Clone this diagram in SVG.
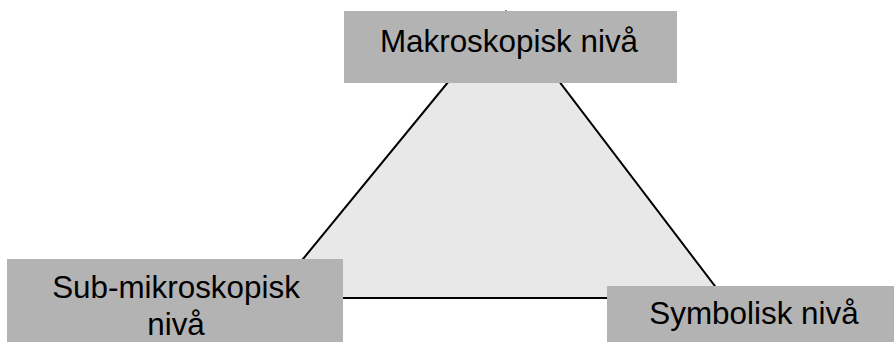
<svg xmlns="http://www.w3.org/2000/svg" width="894" height="342" viewBox="0 0 894 342">
  <style>
    .box { fill: #b3b3b3; }
    .label { font-family: "Liberation Sans", Arial, sans-serif; font-size: 31.4px; fill: #000; text-anchor: middle; }
    .edge { fill: #e8e8e8; stroke: #000; stroke-width: 2; stroke-linejoin: miter; }
  </style>
  <rect width="894" height="342" fill="#fff"/>
  <!-- triangle linking the three levels -->
  <g id="connectors">
    <polygon class="edge" points="506,11.5 271,298 724,298"/>
  </g>
  <g id="makroskopisk">
    <rect class="box" x="344" y="11" width="333" height="72"/>
    <text class="label" x="509" y="52">Makroskopisk nivå</text>
  </g>
  <g id="sub-mikroskopisk">
    <rect class="box" x="7" y="259" width="336" height="90"/>
    <text class="label" x="176" y="298">Sub-mikroskopisk</text>
    <text class="label" x="176" y="335">nivå</text>
  </g>
  <g id="symbolisk">
    <rect class="box" x="607" y="286" width="300" height="60"/>
    <text class="label" x="754" y="324">Symbolisk nivå</text>
  </g>
</svg>
